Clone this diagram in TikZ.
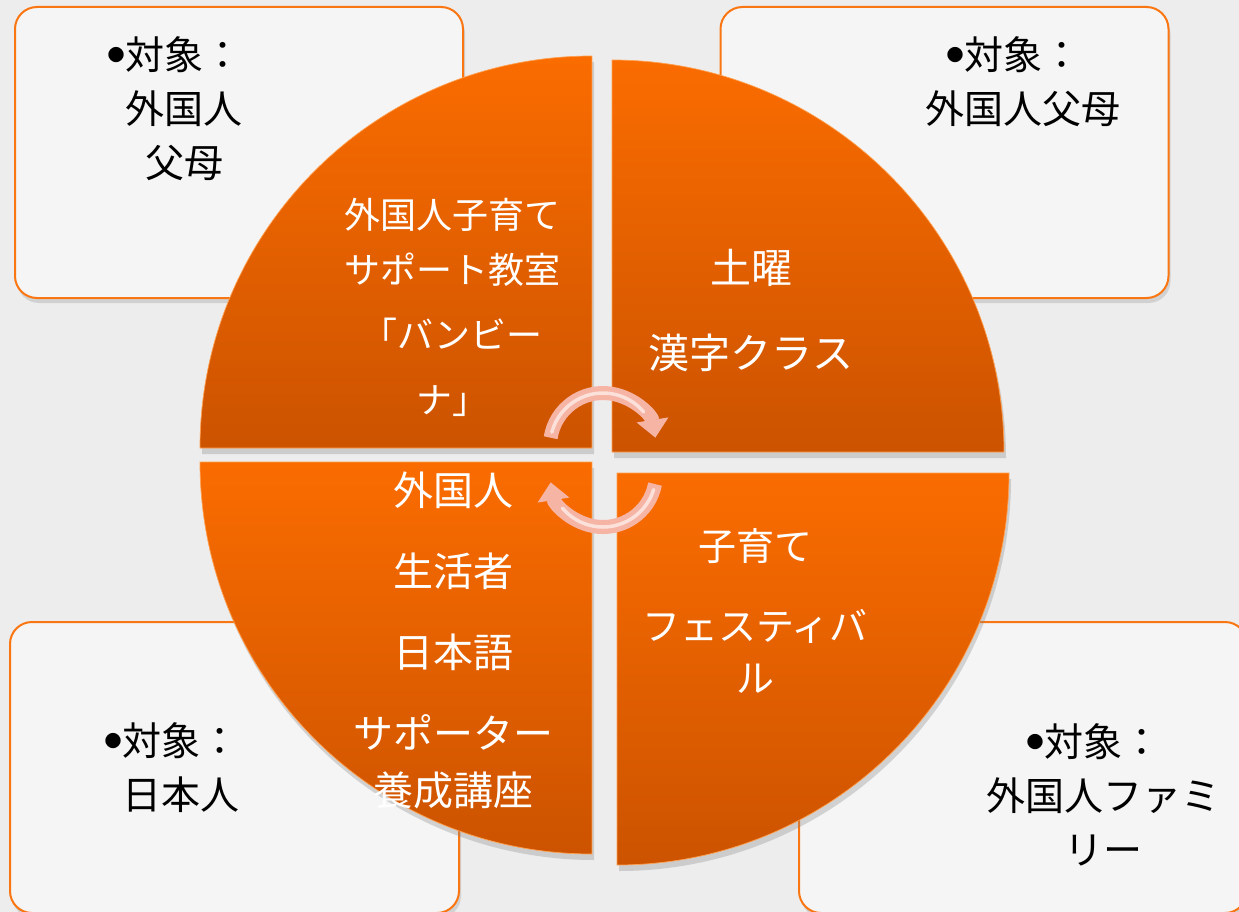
\documentclass[tikz,border=0pt]{standalone}
\usepackage{fontspec}
\setmainfont{Noto Sans CJK JP}
\usetikzlibrary{arrows.meta,shadows}
\definecolor{bg}{RGB}{237,237,237}
\definecolor{boxfill}{RGB}{245,245,245}
\definecolor{boxline}{RGB}{250,118,18}
\definecolor{segtop}{RGB}{250,108,0}
\definecolor{segbot}{RGB}{204,83,0}
\definecolor{segedge}{RGB}{255,160,80}
\definecolor{arrowpink}{RGB}{246,180,164}
\newcommand{\mybul}{\llap{\raisebox{8pt}{\fontsize{17}{17}\selectfont ●}\hspace{1pt}}}
\begin{document}
\begin{tikzpicture}[x=1pt,y=1pt,
  infobox/.style={draw=boxline, line width=2pt, fill=boxfill, rounded corners=22pt,
    minimum width=448pt, minimum height=291pt, inner sep=0pt,
    drop shadow={shadow xshift=2pt, shadow yshift=-5pt, opacity=0.25}},
  boxtext/.style={align=center, font=\fontsize{39}{54}\selectfont, text=black, inner sep=0pt},
  seg/.style={top color=segtop, bottom color=segbot, draw=segedge, line width=0.7pt,
    drop shadow={shadow xshift=2pt, shadow yshift=-6pt, opacity=0.3}},
  segtext/.style={align=center, text=white, inner sep=0pt},
  cyc/.style={line width=14pt, draw=arrowpink, -{Triangle[width=31pt,length=18pt]}},
  gloss/.style={line width=3.5pt, draw=white, opacity=0.6, line cap=round},
]
\useasboundingbox (0,0) rectangle (1239,-912);
\fill[bg] (0,0) rectangle (1239,-912);
\clip (0,0) rectangle (1239,-912);

% corner boxes
\node[infobox] (boxTL) at (239,-152.5) {};
\node[infobox] (boxTR) at (944.5,-152.5) {};
\node[infobox, minimum width=449pt] (boxBL) at (234.5,-767.5) {};
\node[infobox] (boxBR) at (1023,-767.5) {};

\node[boxtext] (tTL) at (184,-109) {\mybul 対象：\\外国人\\父母};
\node[boxtext] (tTR) at (1023,-82) {\mybul 対象：\\外国人父母};
\node[boxtext] (tBL) at (181,-768) {\mybul 対象：\\日本人};
\node[boxtext] (tBR) at (1103,-795) {\mybul 対象：\\外国人ファミ\\リー};

% quarter segments
\path[seg] (592,-448) -- (200,-448) arc[start angle=180,end angle=90,radius=392] -- cycle;
\path[seg] (612,-452) -- (612,-60) arc[start angle=90,end angle=0,radius=392] -- cycle;
\path[seg] (592,-462) -- (200,-462) arc[start angle=180,end angle=270,radius=392] -- cycle;
\path[seg] (617,-473) -- (1009,-473) arc[start angle=0,end angle=-90,radius=392] -- cycle;

\node[segtext, font=\fontsize{36}{55}\selectfont] (sTL) at (452,-307) {外国人子育て\\サポート教室\\[10pt]「バンビー\\[10pt]ナ」};
\node[segtext, font=\fontsize{41}{55}\selectfont] (sTR) at (751,-311) {土曜\\[30pt]漢字クラス};
\node[segtext, font=\fontsize{40}{57}\selectfont] (sBL) at (453,-640) {外国人\\[24pt]生活者\\[24pt]日本語\\[24pt]サポーター\\養成講座};
\node[segtext, font=\fontsize{38}{52}\selectfont] (sBR) at (755,-611) {子育て\\[28pt]フェスティバ\\ル};

% cycle arrows
\coordinate (cu) at (603,-446);
\coordinate (cd) at (603,-474);
\draw[cyc] ([shift={(171:53)}]cu) arc[start angle=171,end angle=9,radius=53];
\draw[gloss] ([shift={(165:53)}]cu) arc[start angle=165,end angle=40,radius=53];
\draw[cyc] ([shift={(-11:53)}]cd) arc[start angle=-11,end angle=-171,radius=53];
\draw[gloss] ([shift={(-17:53)}]cd) arc[start angle=-17,end angle=-140,radius=53];
\end{tikzpicture}
\end{document}
